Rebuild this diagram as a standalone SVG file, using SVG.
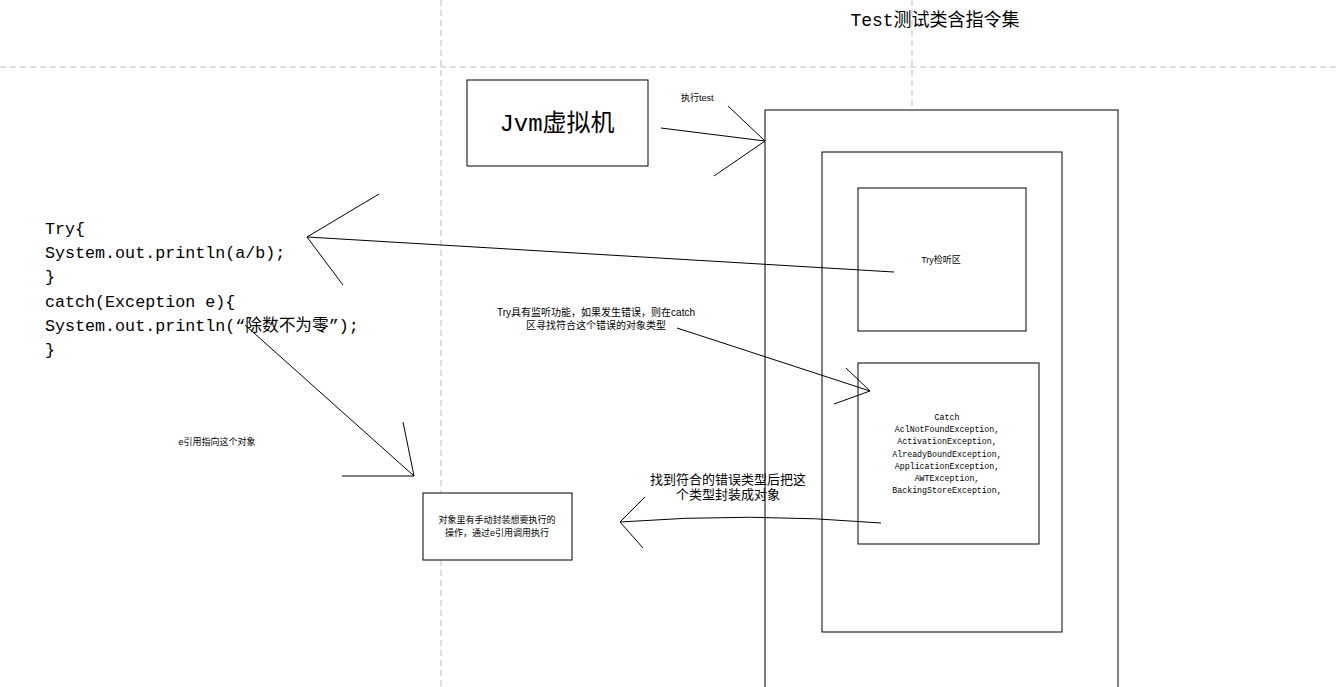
<svg xmlns="http://www.w3.org/2000/svg" width="1337" height="687" viewBox="0 0 1337 687">
<style>
.d{stroke:#bbb;stroke-dasharray:6,4;stroke-width:1;fill:none}
.b{fill:#fff;stroke:#000;stroke-width:1}
.l{stroke:#000;stroke-width:1;fill:none}
.s{font-family:"Liberation Mono","Noto Sans CJK SC",monospace;fill:#000}
.t{font-family:"Liberation Sans","Noto Sans CJK SC",sans-serif;fill:#000}
</style>
<rect width="1337" height="687" fill="#fff"/>
<g id="guides">
<line class="d" x1="0" y1="67" x2="1337" y2="67"/>
<line class="d" x1="441" y1="0" x2="441" y2="687"/>
<line class="d" x1="912" y1="0" x2="912" y2="687"/>
</g>
<text class="s" x="935" y="26" font-size="18" text-anchor="middle">Test测试类含指令集</text>
<g id="jvm"><rect class="b" x="467" y="80" width="181" height="86"/><text class="s" x="557" y="131" font-size="24" text-anchor="middle">Jvm虚拟机</text></g>
<g id="outer"><rect class="b" x="765" y="110" width="353" height="590"/></g>
<g id="inner"><rect class="b" x="822" y="152" width="240" height="480"/></g>
<g id="tryzone"><rect class="b" x="858" y="188" width="168" height="143"/><text class="t" x="941" y="263" font-size="9" text-anchor="middle">Try检听区</text></g>
<g id="catch"><rect class="b" x="858" y="363" width="181" height="181"/>
<text class="s" x="947" y="420" font-size="8.3" text-anchor="middle">
<tspan x="947">Catch</tspan><tspan x="947" dy="12.2">AclNotFoundException,</tspan><tspan x="947" dy="12.2">ActivationException,</tspan><tspan x="947" dy="12.2">AlreadyBoundException,</tspan><tspan x="947" dy="12.2">ApplicationException,</tspan><tspan x="947" dy="12.2">AWTException,</tspan><tspan x="947" dy="12.2">BackingStoreException,</tspan></text></g>
<g id="object"><rect class="b" x="423" y="493" width="149" height="67"/>
<text class="t" x="497" y="523" font-size="9" text-anchor="middle"><tspan x="497">对象里有手动封装想要执行的</tspan><tspan x="497" dy="13">操作，通过e引用调用执行</tspan></text></g>
<g id="code"><text class="s" font-size="16.7">
<tspan x="45" y="234">Try{</tspan><tspan x="45" y="258">System.out.println(a/b);</tspan><tspan x="45" y="282">}</tspan><tspan x="45" y="307">catch(Exception e){</tspan><tspan x="45" y="331">System.out.println(“除数不为零”);</tspan><tspan x="45" y="355">}</tspan></text></g>
<g id="connectors">
<path class="l" d="M661,128 L765,141 M728,106 L765,141 L714,176"/>
<path class="l" d="M894,272 L307,237 M379,194 L307,237 L343,285"/>
<path class="l" d="M677,328 L870,391 M846,368 L870,391 L834,404"/>
<path class="l" d="M245,325 L414,476 M403,422 L414,476 L342,476"/>
<path class="l" d="M881,523 Q750,512 620,522 M645,497 L620,522 L643,548"/>
</g>
<text class="t" x="681" y="101" font-size="9">执行test</text>
<text class="t" x="596" y="316" font-size="10" text-anchor="middle"><tspan x="596">Try具有监听功能，如果发生错误，则在catch</tspan><tspan x="596" dy="13">区寻找符合这个错误的对象类型</tspan></text>
<text class="t" x="217" y="445" font-size="9" text-anchor="middle">e引用指向这个对象</text>
<text class="t" x="728" y="484" font-size="13" text-anchor="middle"><tspan x="728">找到符合的错误类型后把这</tspan><tspan x="728" dy="15">个类型封装成对象</tspan></text>
</svg>
